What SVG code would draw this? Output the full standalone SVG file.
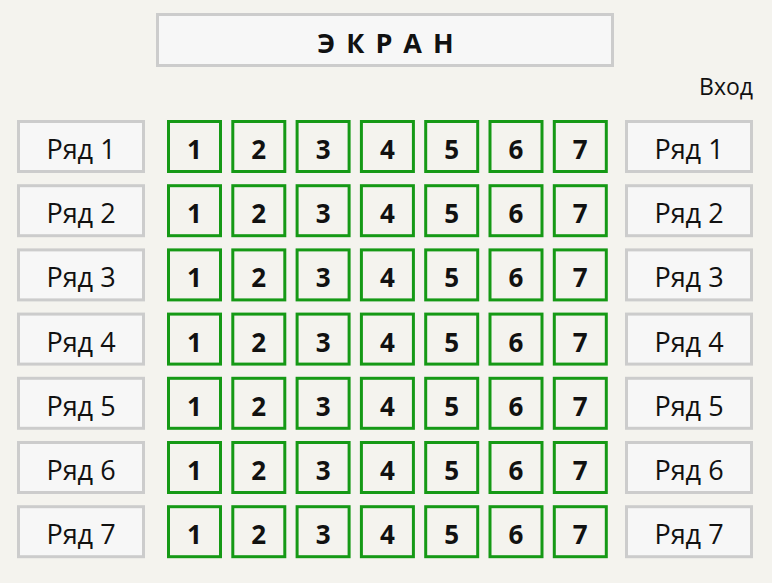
<svg xmlns="http://www.w3.org/2000/svg" width="772" height="583" viewBox="0 0 772 583">
<style>
.bg{fill:#f4f3ee}
.box{fill:#f7f7f7;stroke:#cccccc;stroke-width:3}
.seat{fill:#f4f3ee;stroke:#159915;stroke-width:3}
.lbl{font-family:"Open Sans","Liberation Sans",sans-serif;font-size:27px;fill:#111;text-anchor:middle}
.num{font-family:"Open Sans","Liberation Sans",sans-serif;font-size:26px;font-weight:bold;fill:#111;text-anchor:middle}
.scr{font-family:"Open Sans","Liberation Sans",sans-serif;font-size:27px;font-weight:bold;fill:#111;text-anchor:middle;letter-spacing:11px}
.vh{font-family:"Open Sans","Liberation Sans",sans-serif;font-size:23px;fill:#111;text-anchor:end}
</style>
<rect class="bg" x="0" y="0" width="772" height="583"/>
<g id="screen"><rect class="box" x="157.5" y="14.5" width="455" height="51"/><text class="scr" x="391" y="53">ЭКРАН</text></g>
<g id="entrance"><text class="vh" x="753" y="95">Вход</text></g>
<g id="connectors"></g>
<g id="row1" transform="translate(0,0)">
<g id="left-row1"><rect class="box" x="18.5" y="121.5" width="125" height="50"/><text class="lbl" x="81" y="159">Ряд 1</text></g>
<g id="r1s1"><rect class="seat" x="168.5" y="121.5" width="52" height="50"/><text class="num" x="194.5" y="159">1</text></g>
<g id="r1s2"><rect class="seat" x="232.8" y="121.5" width="52" height="50"/><text class="num" x="258.8" y="159">2</text></g>
<g id="r1s3"><rect class="seat" x="297.1" y="121.5" width="52" height="50"/><text class="num" x="323.1" y="159">3</text></g>
<g id="r1s4"><rect class="seat" x="361.4" y="121.5" width="52" height="50"/><text class="num" x="387.4" y="159">4</text></g>
<g id="r1s5"><rect class="seat" x="425.7" y="121.5" width="52" height="50"/><text class="num" x="451.7" y="159">5</text></g>
<g id="r1s6"><rect class="seat" x="490" y="121.5" width="52" height="50"/><text class="num" x="516" y="159">6</text></g>
<g id="r1s7"><rect class="seat" x="554.3" y="121.5" width="52" height="50"/><text class="num" x="580.3" y="159">7</text></g>
<g id="right-row1"><rect class="box" x="626.5" y="121.5" width="125" height="50"/><text class="lbl" x="689" y="159">Ряд 1</text></g>
</g>
<g id="row2" transform="translate(0,64.2)">
<g id="left-row2"><rect class="box" x="18.5" y="121.5" width="125" height="50"/><text class="lbl" x="81" y="159">Ряд 2</text></g>
<g id="r2s1"><rect class="seat" x="168.5" y="121.5" width="52" height="50"/><text class="num" x="194.5" y="159">1</text></g>
<g id="r2s2"><rect class="seat" x="232.8" y="121.5" width="52" height="50"/><text class="num" x="258.8" y="159">2</text></g>
<g id="r2s3"><rect class="seat" x="297.1" y="121.5" width="52" height="50"/><text class="num" x="323.1" y="159">3</text></g>
<g id="r2s4"><rect class="seat" x="361.4" y="121.5" width="52" height="50"/><text class="num" x="387.4" y="159">4</text></g>
<g id="r2s5"><rect class="seat" x="425.7" y="121.5" width="52" height="50"/><text class="num" x="451.7" y="159">5</text></g>
<g id="r2s6"><rect class="seat" x="490" y="121.5" width="52" height="50"/><text class="num" x="516" y="159">6</text></g>
<g id="r2s7"><rect class="seat" x="554.3" y="121.5" width="52" height="50"/><text class="num" x="580.3" y="159">7</text></g>
<g id="right-row2"><rect class="box" x="626.5" y="121.5" width="125" height="50"/><text class="lbl" x="689" y="159">Ряд 2</text></g>
</g>
<g id="row3" transform="translate(0,128.4)">
<g id="left-row3"><rect class="box" x="18.5" y="121.5" width="125" height="50"/><text class="lbl" x="81" y="159">Ряд 3</text></g>
<g id="r3s1"><rect class="seat" x="168.5" y="121.5" width="52" height="50"/><text class="num" x="194.5" y="159">1</text></g>
<g id="r3s2"><rect class="seat" x="232.8" y="121.5" width="52" height="50"/><text class="num" x="258.8" y="159">2</text></g>
<g id="r3s3"><rect class="seat" x="297.1" y="121.5" width="52" height="50"/><text class="num" x="323.1" y="159">3</text></g>
<g id="r3s4"><rect class="seat" x="361.4" y="121.5" width="52" height="50"/><text class="num" x="387.4" y="159">4</text></g>
<g id="r3s5"><rect class="seat" x="425.7" y="121.5" width="52" height="50"/><text class="num" x="451.7" y="159">5</text></g>
<g id="r3s6"><rect class="seat" x="490" y="121.5" width="52" height="50"/><text class="num" x="516" y="159">6</text></g>
<g id="r3s7"><rect class="seat" x="554.3" y="121.5" width="52" height="50"/><text class="num" x="580.3" y="159">7</text></g>
<g id="right-row3"><rect class="box" x="626.5" y="121.5" width="125" height="50"/><text class="lbl" x="689" y="159">Ряд 3</text></g>
</g>
<g id="row4" transform="translate(0,192.6)">
<g id="left-row4"><rect class="box" x="18.5" y="121.5" width="125" height="50"/><text class="lbl" x="81" y="159">Ряд 4</text></g>
<g id="r4s1"><rect class="seat" x="168.5" y="121.5" width="52" height="50"/><text class="num" x="194.5" y="159">1</text></g>
<g id="r4s2"><rect class="seat" x="232.8" y="121.5" width="52" height="50"/><text class="num" x="258.8" y="159">2</text></g>
<g id="r4s3"><rect class="seat" x="297.1" y="121.5" width="52" height="50"/><text class="num" x="323.1" y="159">3</text></g>
<g id="r4s4"><rect class="seat" x="361.4" y="121.5" width="52" height="50"/><text class="num" x="387.4" y="159">4</text></g>
<g id="r4s5"><rect class="seat" x="425.7" y="121.5" width="52" height="50"/><text class="num" x="451.7" y="159">5</text></g>
<g id="r4s6"><rect class="seat" x="490" y="121.5" width="52" height="50"/><text class="num" x="516" y="159">6</text></g>
<g id="r4s7"><rect class="seat" x="554.3" y="121.5" width="52" height="50"/><text class="num" x="580.3" y="159">7</text></g>
<g id="right-row4"><rect class="box" x="626.5" y="121.5" width="125" height="50"/><text class="lbl" x="689" y="159">Ряд 4</text></g>
</g>
<g id="row5" transform="translate(0,256.8)">
<g id="left-row5"><rect class="box" x="18.5" y="121.5" width="125" height="50"/><text class="lbl" x="81" y="159">Ряд 5</text></g>
<g id="r5s1"><rect class="seat" x="168.5" y="121.5" width="52" height="50"/><text class="num" x="194.5" y="159">1</text></g>
<g id="r5s2"><rect class="seat" x="232.8" y="121.5" width="52" height="50"/><text class="num" x="258.8" y="159">2</text></g>
<g id="r5s3"><rect class="seat" x="297.1" y="121.5" width="52" height="50"/><text class="num" x="323.1" y="159">3</text></g>
<g id="r5s4"><rect class="seat" x="361.4" y="121.5" width="52" height="50"/><text class="num" x="387.4" y="159">4</text></g>
<g id="r5s5"><rect class="seat" x="425.7" y="121.5" width="52" height="50"/><text class="num" x="451.7" y="159">5</text></g>
<g id="r5s6"><rect class="seat" x="490" y="121.5" width="52" height="50"/><text class="num" x="516" y="159">6</text></g>
<g id="r5s7"><rect class="seat" x="554.3" y="121.5" width="52" height="50"/><text class="num" x="580.3" y="159">7</text></g>
<g id="right-row5"><rect class="box" x="626.5" y="121.5" width="125" height="50"/><text class="lbl" x="689" y="159">Ряд 5</text></g>
</g>
<g id="row6" transform="translate(0,321)">
<g id="left-row6"><rect class="box" x="18.5" y="121.5" width="125" height="50"/><text class="lbl" x="81" y="159">Ряд 6</text></g>
<g id="r6s1"><rect class="seat" x="168.5" y="121.5" width="52" height="50"/><text class="num" x="194.5" y="159">1</text></g>
<g id="r6s2"><rect class="seat" x="232.8" y="121.5" width="52" height="50"/><text class="num" x="258.8" y="159">2</text></g>
<g id="r6s3"><rect class="seat" x="297.1" y="121.5" width="52" height="50"/><text class="num" x="323.1" y="159">3</text></g>
<g id="r6s4"><rect class="seat" x="361.4" y="121.5" width="52" height="50"/><text class="num" x="387.4" y="159">4</text></g>
<g id="r6s5"><rect class="seat" x="425.7" y="121.5" width="52" height="50"/><text class="num" x="451.7" y="159">5</text></g>
<g id="r6s6"><rect class="seat" x="490" y="121.5" width="52" height="50"/><text class="num" x="516" y="159">6</text></g>
<g id="r6s7"><rect class="seat" x="554.3" y="121.5" width="52" height="50"/><text class="num" x="580.3" y="159">7</text></g>
<g id="right-row6"><rect class="box" x="626.5" y="121.5" width="125" height="50"/><text class="lbl" x="689" y="159">Ряд 6</text></g>
</g>
<g id="row7" transform="translate(0,385.2)">
<g id="left-row7"><rect class="box" x="18.5" y="121.5" width="125" height="50"/><text class="lbl" x="81" y="159">Ряд 7</text></g>
<g id="r7s1"><rect class="seat" x="168.5" y="121.5" width="52" height="50"/><text class="num" x="194.5" y="159">1</text></g>
<g id="r7s2"><rect class="seat" x="232.8" y="121.5" width="52" height="50"/><text class="num" x="258.8" y="159">2</text></g>
<g id="r7s3"><rect class="seat" x="297.1" y="121.5" width="52" height="50"/><text class="num" x="323.1" y="159">3</text></g>
<g id="r7s4"><rect class="seat" x="361.4" y="121.5" width="52" height="50"/><text class="num" x="387.4" y="159">4</text></g>
<g id="r7s5"><rect class="seat" x="425.7" y="121.5" width="52" height="50"/><text class="num" x="451.7" y="159">5</text></g>
<g id="r7s6"><rect class="seat" x="490" y="121.5" width="52" height="50"/><text class="num" x="516" y="159">6</text></g>
<g id="r7s7"><rect class="seat" x="554.3" y="121.5" width="52" height="50"/><text class="num" x="580.3" y="159">7</text></g>
<g id="right-row7"><rect class="box" x="626.5" y="121.5" width="125" height="50"/><text class="lbl" x="689" y="159">Ряд 7</text></g>
</g>
</svg>
